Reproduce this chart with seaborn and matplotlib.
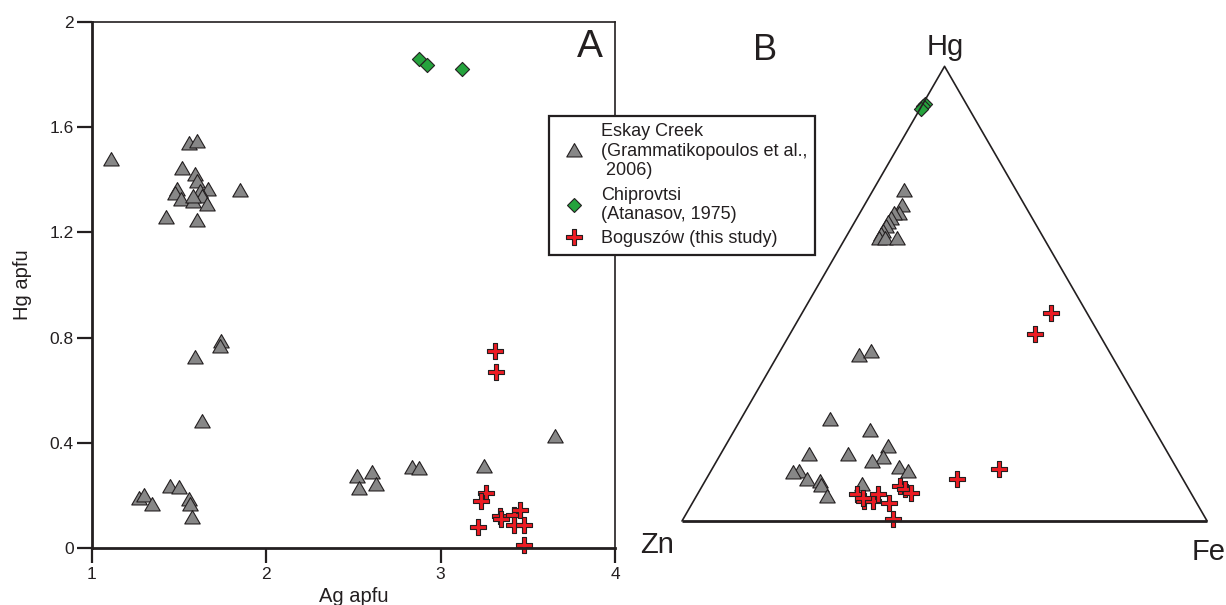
import numpy as np
import matplotlib
matplotlib.use('Agg')
import matplotlib.pyplot as plt
import seaborn as sns
from matplotlib.lines import Line2D

# --- panel A: Ag vs Hg (apfu) ---
eskay_ag = [1.107, 1.556, 1.600, 1.518, 1.590, 1.600, 1.485, 1.476, 1.510, 1.667,
            1.619, 1.632, 1.581, 1.657, 1.580, 1.422, 1.604, 1.848,
            1.741, 1.736, 1.591, 1.630,
            1.270, 1.300, 1.347, 1.446, 1.499, 1.557, 1.561, 1.573,
            2.520, 2.534, 2.607, 2.630, 2.833, 2.876, 3.246, 3.656]
eskay_hg = [1.470, 1.533, 1.540, 1.438, 1.413, 1.388, 1.358, 1.341, 1.320, 1.358,
            1.350, 1.331, 1.312, 1.301, 1.330, 1.251, 1.238, 1.352,
            0.778, 0.759, 0.718, 0.475,
            0.184, 0.194, 0.161, 0.230, 0.224, 0.177, 0.158, 0.111,
            0.268, 0.222, 0.280, 0.237, 0.300, 0.295, 0.306, 0.420]
chip_ag = [2.874, 2.919, 3.125]
chip_hg = [1.860, 1.836, 1.822]
bog_ag = [3.314, 3.318, 3.259, 3.232, 3.212, 3.339, 3.345, 3.422, 3.456, 3.422, 3.477, 3.480]
bog_hg = [0.749, 0.670, 0.209, 0.180, 0.078, 0.120, 0.110, 0.127, 0.143, 0.089, 0.086, 0.013]

x_ticks = [1, 2, 3, 4]
y_ticks = [0, 0.4, 0.8, 1.2, 1.6, 2]
y_tick_labels = ['0', '0.4', '0.8', '1.2', '1.6', '2']

# --- panel B: Zn-Fe-Hg ternary (fractions of Fe and Hg, Zn is the rest) ---
eskay_t_fe = [0.062, 0.073, 0.077, 0.066, 0.067, 0.066, 0.066, 0.065, 0.066, 0.067, 0.078, 0.100,
              0.158, 0.174,
              0.172, 0.261, 0.313, 0.315, 0.299, 0.244, 0.170, 0.170, 0.159, 0.195, 0.221,
              0.227, 0.250, 0.357, 0.378, 0.305]
eskay_t_hg = [0.723, 0.691, 0.674, 0.674, 0.663, 0.654, 0.645, 0.634, 0.626, 0.617, 0.617, 0.617,
              0.360, 0.370,
              0.221, 0.195, 0.160, 0.137, 0.127, 0.143, 0.143, 0.106, 0.104, 0.087, 0.083,
              0.074, 0.051, 0.114, 0.105, 0.077]
chip_t_fe = [0.004, 0.003, 0.002]
chip_t_hg = [0.918, 0.912, 0.907]
bog_t_fe = [0.474, 0.466, 0.547, 0.478, 0.303, 0.325, 0.342, 0.344, 0.374, 0.399,
            0.376, 0.390, 0.405, 0.320]
bog_t_hg = [0.457, 0.411, 0.115, 0.093, 0.059, 0.043, 0.044, 0.059, 0.039, 0.004,
            0.078, 0.070, 0.061, 0.050]


def tern_xy(fe, hg):
    fe = np.asarray(fe, dtype=float)
    hg = np.asarray(hg, dtype=float)
    return fe + hg / 2, hg * np.sqrt(3) / 2


sns.set_theme(style='ticks')
plt.rcParams['font.family'] = ['Liberation Sans', 'DejaVu Sans']
ink = '#231f20'
plt.rcParams.update({'text.color': ink, 'axes.labelcolor': ink,
                     'xtick.color': ink, 'ytick.color': ink})

gray, green, red = '#878787', '#25a33d', '#ed1c24'

# equilateral triangle and slim cross markers
tri = [(0, 1), (-0.866, -0.5), (0.866, -0.5), (0, 1)]
t = 0.3
plus = [(-t, 1), (t, 1), (t, t), (1, t), (1, -t), (t, -t), (t, -1), (-t, -1),
        (-t, -t), (-1, -t), (-1, t), (-t, t), (-t, 1)]

tri_kw = dict(marker=tri, s=165, color=gray, edgecolor=ink, linewidth=0.8)
dia_kw = dict(marker='D', s=52, color=green, edgecolor=ink, linewidth=0.8)
plus_kw = dict(marker=plus, s=125, color=red, edgecolor=ink, linewidth=0.8)

fig = plt.figure(figsize=(12.26, 6.05), dpi=100)

# ---------- A ----------
ax = fig.add_axes([92 / 1226, 57 / 605, 523 / 1226, 526 / 605])
sns.scatterplot(x=eskay_ag, y=eskay_hg, ax=ax, clip_on=False, **tri_kw)
sns.scatterplot(x=chip_ag, y=chip_hg, ax=ax, clip_on=False, **dia_kw)
sns.scatterplot(x=bog_ag, y=bog_hg, ax=ax, clip_on=False, **plus_kw)
ax.set_xlim(1, 4)
ax.set_ylim(0, 2)
ax.set_xticks(x_ticks)
ax.set_xticklabels([str(v) for v in x_ticks])
ax.set_yticks(y_ticks)
ax.set_yticklabels(y_tick_labels)
ax.tick_params(direction='out', length=11, width=1.6, pad=2, labelsize=12.5)
ax.tick_params(axis='x', pad=3)
for side in ['left', 'bottom']:
    ax.spines[side].set_linewidth(2.0)
for side in ['top', 'right']:
    ax.spines[side].set_linewidth(1.2)
for sp in ax.spines.values():
    sp.set_color(ink)
ax.set_xlabel('Ag apfu', fontsize=14.5, labelpad=3)
ax.set_ylabel('Hg apfu', fontsize=14.5, labelpad=13)
ax.text(0.952, 0.952, 'A', transform=ax.transAxes, fontsize=28,
        ha='center', va='center')

handles = [Line2D([], [], linestyle='none', marker=tri, markersize=np.sqrt(165),
                  markerfacecolor=gray, markeredgecolor=ink, markeredgewidth=0.8),
           Line2D([], [], linestyle='none', marker='D', markersize=np.sqrt(52),
                  markerfacecolor=green, markeredgecolor=ink, markeredgewidth=0.8),
           Line2D([], [], linestyle='none', marker=plus, markersize=np.sqrt(125),
                  markerfacecolor=red, markeredgecolor=ink, markeredgewidth=0.8)]
labels = ['Eskay Creek\n(Grammatikopoulos et al.,\n 2006)',
          'Chiprovtsi\n(Atanasov, 1975)',
          'Boguszów (this study)']
leg = ax.legend(handles, labels, loc='upper left',
                bbox_to_anchor=(549 / 1226, 1 - 116 / 605),
                bbox_transform=fig.transFigure, fontsize=13, frameon=True,
                fancybox=False, framealpha=1, edgecolor=ink, borderpad=0.4,
                handlelength=1.96, handletextpad=0.52, labelspacing=0.4,
                borderaxespad=0)
leg.get_frame().set_linewidth(1.6)
for txt in leg.get_texts():
    txt.set_linespacing(1.2)

# ---------- B ----------
bx = fig.add_axes([640 / 1226, 0, 586 / 1226, 1])
bx.set_xlim(-0.08, 1.036)
bx.set_ylim(-0.16, 0.9924)
bx.axis('off')

corner_fe = [0, 1, 0]
corner_hg = [0, 0, 1]
cx, cy = tern_xy(corner_fe, corner_hg)
bx.plot([cx[0], cx[1]], [cy[0], cy[1]], color=ink, lw=2.0, solid_capstyle='butt')
bx.plot([cx[1], cx[2], cx[0]], [cy[1], cy[2], cy[0]], color=ink, lw=1.2)

ex, ey = tern_xy(eskay_t_fe, eskay_t_hg)
gx, gy = tern_xy(chip_t_fe, chip_t_hg)
rx, ry = tern_xy(bog_t_fe, bog_t_hg)
sns.scatterplot(x=ex, y=ey, ax=bx, clip_on=False, **tri_kw)
sns.scatterplot(x=gx, y=gy, ax=bx, clip_on=False, **dia_kw)
sns.scatterplot(x=rx, y=ry, ax=bx, clip_on=False, **plus_kw)

bx.text(0.501, 0.903, 'Hg', fontsize=21, ha='center', va='center')
bx.text(-0.048, -0.046, 'Zn', fontsize=21, ha='center', va='center')
bx.text(1.002, -0.059, 'Fe', fontsize=21, ha='center', va='center')
bx.text(0.158, 0.897, 'B', fontsize=26, ha='center', va='center')

fig.savefig('out.png', dpi=100)
